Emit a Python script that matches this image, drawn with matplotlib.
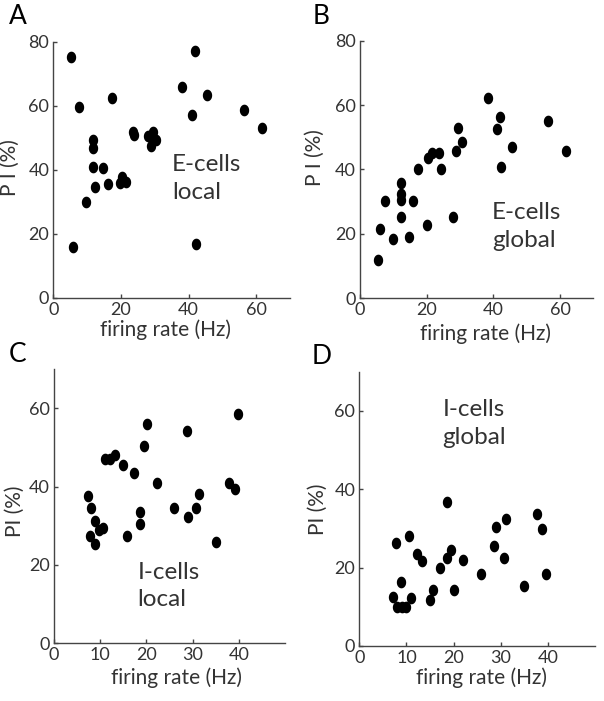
import numpy as np
import matplotlib
matplotlib.use("Agg")
import matplotlib.pyplot as plt
from matplotlib.path import Path

plt.rcParams['font.family'] = ['Lato', 'DejaVu Sans']

# ---------------- data ----------------
# Panel A: E-cells local
a_rate = [5.1, 7.6, 5.9, 9.7, 11.8, 11.8, 11.8, 14.6, 12.3, 16.1, 17.3,
          19.8, 20.3, 21.5, 23.6, 24.0, 28.0, 29.6, 30.5, 29.0, 29.3,
          38.1, 41.8, 41.0, 42.1, 45.5, 56.4, 61.6]
a_pi = [75.1, 59.5, 15.7, 30.0, 49.3, 46.7, 40.9, 40.4, 34.7, 35.5, 62.3,
        35.8, 37.6, 36.0, 51.9, 50.8, 50.6, 51.8, 49.4, 47.4, 50.0,
        65.7, 77.2, 57.1, 16.8, 63.3, 58.6, 52.9]

# Panel B: E-cells global
b_rate = [5.4, 6.0, 7.5, 9.8, 12.2, 12.2, 12.2, 12.2, 14.8, 16.0, 17.5,
          20.0, 20.5, 21.5, 23.8, 24.2, 28.0, 28.8, 29.4, 30.5,
          38.3, 41.0, 42.0, 42.2, 45.5, 56.3, 61.7]
b_pi = [11.9, 21.6, 30.1, 18.3, 35.7, 32.4, 30.5, 25.2, 19.1, 30.2, 40.1,
        22.7, 43.5, 45.0, 45.2, 40.1, 25.2, 45.6, 53.0, 48.4,
        62.1, 52.6, 56.4, 40.9, 47.1, 55.2, 45.9]

# Panel C: I-cells local
c_rate = [7.3, 8.0, 7.8, 8.8, 8.9, 9.7, 10.7, 11.0, 12.2, 13.3, 15.0, 15.8,
          17.3, 18.7, 18.7, 19.5, 20.2, 22.2, 25.9, 28.8, 29.0, 30.7, 31.3,
          35.1, 37.8, 39.1, 39.9]
c_pi = [37.5, 34.4, 27.3, 25.4, 31.2, 29.0, 29.3, 47.1, 47.1, 48.2, 45.6, 27.3,
        43.4, 30.4, 33.5, 50.5, 56.0, 40.9, 34.4, 54.3, 32.1, 34.6, 38.2,
        25.9, 40.9, 39.5, 58.6]

# Panel D: I-cells global
d_rate = [7.1, 7.8, 7.9, 9.0, 10.0, 8.8, 10.6, 10.9, 12.3, 13.3, 14.9, 15.6,
          17.2, 18.6, 18.6, 19.4, 20.1, 22.1, 25.9, 28.5, 28.9, 30.6, 31.1,
          34.9, 37.6, 38.8, 39.7]
d_pi = [12.6, 26.4, 9.9, 9.9, 9.9, 16.4, 28.0, 12.2, 23.4, 21.6, 11.8, 14.3,
        20.0, 36.8, 22.4, 24.4, 14.3, 22.0, 18.4, 25.4, 30.3, 22.5, 32.5,
        15.2, 33.8, 29.9, 18.4]

panel_letters = ['A', 'B', 'C', 'D']
annotations = ['E-cells\nlocal', 'E-cells\nglobal', 'I-cells\nlocal', 'I-cells\nglobal']
ylabels = ['P I (%)', 'P I (%)', 'PI (%)', 'PI (%)']
xlabel = 'firing rate (Hz)'
xticks_E = [0, 20, 40, 60]
yticks_E = [0, 20, 40, 60, 80]
xticks_I = [0, 10, 20, 30, 40]
yticks_I = [0, 20, 40, 60]

# ---------------- style ----------------
TXT = '#333333'
AX = '#444444'

t = np.linspace(0, 2 * np.pi, 60)
ell = Path(np.column_stack([0.8 * np.cos(t), np.sin(t)]), closed=True)

W, H = 604, 701
fig = plt.figure(figsize=(W / 100, H / 100), dpi=100)

def frac(l, r, b, t_):
    return [l / W, 1 - b / H, (r - l) / W, (b - t_) / H]

axes_px = [
    (53.3, 290.0, 297.7, 41.7),
    (360.0, 593.3, 298.3, 40.7),
    (54.0, 285.0, 643.0, 369.3),
    (359.3, 595.0, 646.0, 371.7),
]
data = [(a_rate, a_pi), (b_rate, b_pi), (c_rate, c_pi), (d_rate, d_pi)]
xlims = [(0, 70), (0, 70), (0, 50), (0, 50)]
ylims = [(0, 80), (0, 80), (0, 70), (0, 70)]
xt = [xticks_E, xticks_E, xticks_I, xticks_I]
yt = [yticks_E, yticks_E, yticks_I, yticks_I]
ann_pos = [(35.1, 44.8), (39.6, 29.8), (18.1, 20.8), (17.7, 63.0)]
xlab_pos = [(0.476, -0.085), (0.54, -0.097), (0.53, -0.088), (0.517, -0.078)]
ylab_pos = [(-0.141, 0.507), (-0.15, 0.547), (-0.126, 0.48), (-0.132, 0.50)]
letter_px = [(9, 4), (313, 4), (9, 342), (312, 344)]

for i in range(4):
    ax = fig.add_axes(frac(*axes_px[i]))
    x, y = data[i]
    ax.plot(x, y, linestyle='none', marker=ell, markersize=8.4,
            color='black', markeredgewidth=0)
    ax.set_xlim(*xlims[i])
    ax.set_ylim(*ylims[i])
    ax.set_xticks(xt[i])
    ax.set_yticks(yt[i])
    for s in ['top', 'right']:
        ax.spines[s].set_visible(False)
    for s in ['left', 'bottom']:
        ax.spines[s].set_color(AX)
        ax.spines[s].set_linewidth(1.0)
    ax.tick_params(direction='in', length=3, width=1, color=AX,
                   labelsize=13, labelcolor=TXT, pad=3)
    ax.set_xlabel(xlabel, fontsize=15, color=TXT)
    ax.set_ylabel(ylabels[i], fontsize=15, color=TXT)
    ax.xaxis.set_label_coords(*xlab_pos[i])
    ax.yaxis.set_label_coords(*ylab_pos[i])
    ax.text(ann_pos[i][0], ann_pos[i][1], annotations[i], fontsize=17.5,
            color=TXT, ha='left', va='top', linespacing=1.38)
    lx, ly = letter_px[i]
    fig.text(lx / W, 1 - ly / H, panel_letters[i], fontsize=19, color='black',
             ha='left', va='top')

fig.savefig('out.png', dpi=100)
